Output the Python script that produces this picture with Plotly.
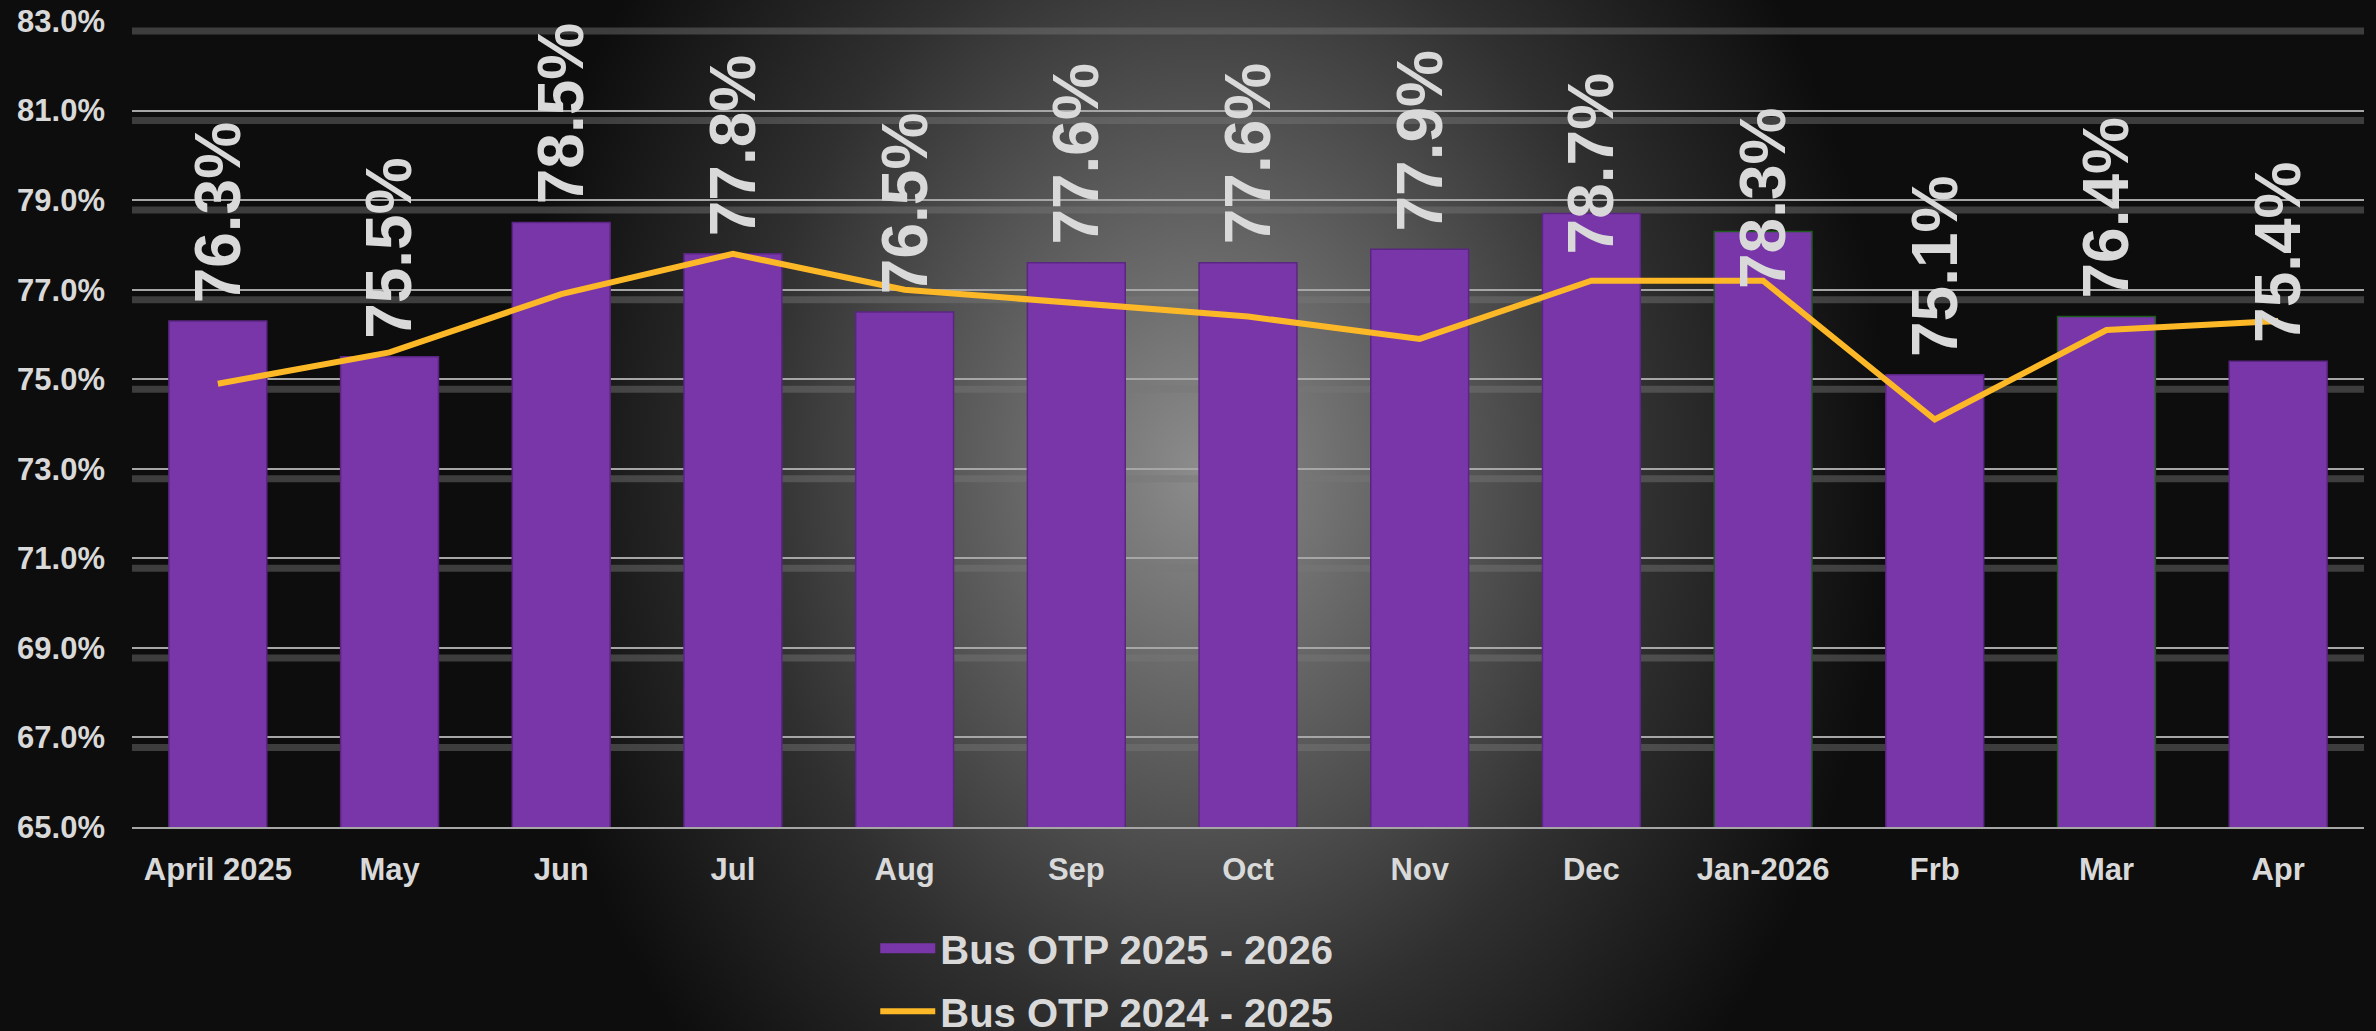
import base64
import plotly.graph_objects as go

# =========================
# DATA
# =========================
MONTHS = ["April 2025", "May", "Jun", "Jul", "Aug", "Sep", "Oct",
          "Nov", "Dec", "Jan-2026", "Frb", "Mar", "Apr"]
OTP_2025_26 = [76.3, 75.5, 78.5, 77.8, 76.5, 77.6, 77.6, 77.9, 78.7, 78.3, 75.1, 76.4, 75.4]
OTP_2024_25 = [74.9, 75.6, 76.9, 77.8, 77.0, 76.7, 76.4, 75.9, 77.2, 77.2, 74.1, 76.1, 76.3]
Y_TICKS = [65, 67, 69, 71, 73, 75, 77, 79, 81, 83]
Y_LABELS = [f"{t:.1f}%" for t in Y_TICKS]

# labels that were dragged down onto the bar in the original
LABEL_NUDGE = {"Dec": -59, "Jan-2026": -76}

# =========================
# STYLE
# =========================
W, H = 2376, 1031
FONT = "Liberation Sans, Arial, sans-serif"
TXT = "#d9d9d9"
PURPLE = "#7936a9"
GOLD = "#fdb827"
M_L, M_R, M_T, M_B = 132, 12, 21, 204
PW, PH = W - M_L - M_R, H - M_T - M_B

# radial grey glow behind the plot
svg = f"""<svg xmlns="http://www.w3.org/2000/svg" width="{W}" height="{H}" viewBox="0 0 {W} {H}" preserveAspectRatio="none">
<defs><radialGradient id="g" gradientUnits="userSpaceOnUse" cx="1200" cy="470" r="690"
 gradientTransform="translate(1200 470) scale(1 1.25) translate(-1200 -470)">
<stop offset="0" stop-color="#8c8c8c"/>
<stop offset="0.3" stop-color="#616161"/>
<stop offset="0.65" stop-color="#303030"/>
<stop offset="1" stop-color="#0d0d0d"/>
</radialGradient></defs>
<rect width="{W}" height="{H}" fill="#0d0d0d"/>
<rect width="{W}" height="{H}" fill="url(#g)"/>
</svg>"""
bg_uri = "data:image/svg+xml;base64," + base64.b64encode(svg.encode()).decode()

edge = ["#1f5a1f" if m in ("Jan-2026", "Mar") else "#5b2683" for m in MONTHS]

fig = go.Figure()

fig.add_trace(go.Bar(
    x=MONTHS, y=OTP_2025_26, name="Bus OTP 2025 - 2026",
    marker=dict(color=PURPLE, line=dict(color=edge, width=1.5)),
    width=0.57, legendgroup="a", showlegend=False,
))
# wide legend swatch for the bars (draws nothing on the plot)
fig.add_trace(go.Scatter(
    x=[None], y=[None], name="Bus OTP 2025 - 2026", mode="lines",
    line=dict(color=PURPLE, width=21), legendgroup="a",
))

fig.add_trace(go.Scatter(
    x=MONTHS, y=OTP_2024_25, name="Bus OTP 2024 - 2025", mode="lines",
    line=dict(color=GOLD, width=6), legendgroup="b",
))

for m, v in zip(MONTHS, OTP_2025_26):
    fig.add_annotation(
        x=m, y=v, text=f"{v:.1f}%", textangle=-90, showarrow=False,
        yanchor="bottom", yshift=16 + LABEL_NUDGE.get(m, 0),
        font=dict(family=FONT, size=64, color=TXT, weight="bold"),
    )

# soft shadow under each gridline
for t in Y_TICKS:
    fig.add_shape(
        type="line", xref="paper", x0=0, x1=1, yref="y", ysizemode="pixel",
        yanchor=t, y0=-10, y1=-10, layer="below",
        line=dict(color="rgba(120,120,120,0.45)", width=7),
    )

fig.add_layout_image(
    source=bg_uri, xref="paper", yref="paper",
    x=-M_L / PW, y=1 + M_T / PH, sizex=W / PW, sizey=H / PH,
    xanchor="left", yanchor="top", sizing="stretch", layer="below",
)

fig.update_layout(
    width=W, height=H,
    margin=dict(l=M_L, r=M_R, t=M_T, b=M_B, autoexpand=False),
    paper_bgcolor="#0d0d0d", plot_bgcolor="rgba(0,0,0,0)",
    font=dict(family=FONT, color=TXT, weight="bold"),
    showlegend=True,
    legend=dict(
        orientation="v", x=0.333, xanchor="left", y=-0.11, yanchor="top",
        font=dict(size=40, color=TXT, family=FONT, weight="bold"),
        bgcolor="rgba(0,0,0,0)", itemwidth=55, tracegroupgap=8,
    ),
    bargap=0.43,
)

fig.update_xaxes(
    showgrid=False, showline=True, linecolor="#a6a6a6", linewidth=2,
    tickfont=dict(size=31, color=TXT, family=FONT, weight="bold"),
    ticks="", ticklabelstandoff=14,
)
fig.update_yaxes(
    range=[65, 83], tickvals=Y_TICKS, ticktext=Y_LABELS,
    showgrid=True, gridcolor="#a6a6a6", gridwidth=2, zeroline=False,
    tickfont=dict(size=31, color=TXT, family=FONT, weight="bold"),
    ticks="", ticklabelstandoff=26,
)

fig.write_html("out.html", config={"displayModeBar": False},
               post_script="document.body.style.margin='0';")
